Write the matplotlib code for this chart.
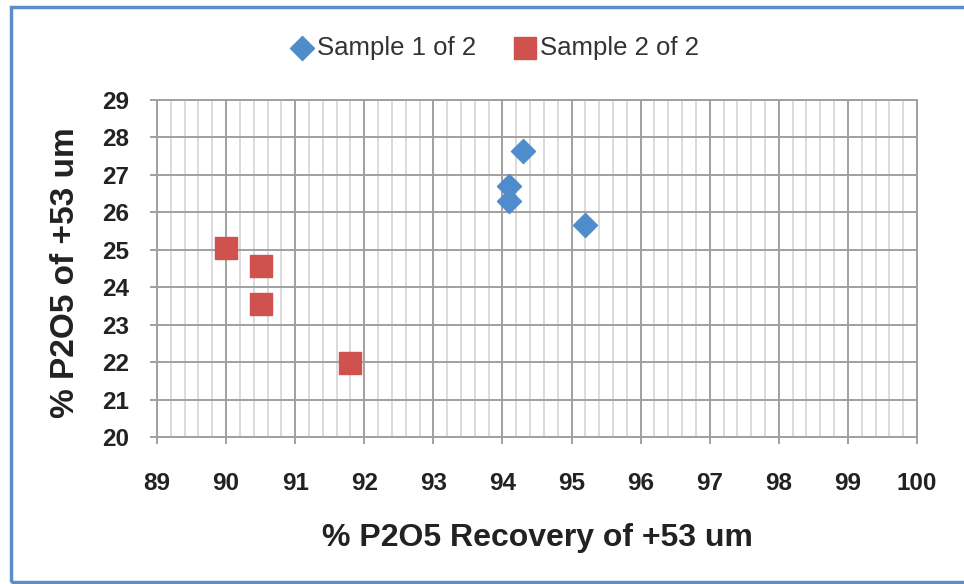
import matplotlib
matplotlib.use("Agg")
import matplotlib.pyplot as plt
from matplotlib.patches import Rectangle
from matplotlib.ticker import MultipleLocator

plt.rcParams['font.family'] = ['Liberation Sans', 'DejaVu Sans']

s1_x = [94.3, 94.1, 94.1, 95.2]
s1_y = [27.65, 26.7, 26.3, 25.65]
s2_x = [90.0, 90.5, 90.5, 91.8]
s2_y = [25.05, 24.57, 23.55, 21.97]
series_names = ["Sample 1 of 2", "Sample 2 of 2"]
x_label = "% P2O5 Recovery of +53 um"
y_label = "% P2O5 of +53 um"

fig = plt.figure(figsize=(9.64, 5.84), dpi=100)
fig.patches.append(Rectangle((11/964, 2/584), 1.0, 575/584, transform=fig.transFigure,
                             fill=False, edgecolor='#5b8ec9', linewidth=2.5, zorder=0))

ax = fig.add_axes([157/964, (584-437)/584, 760/964, 337/584])
ax.set_xlim(89, 100)
ax.set_ylim(20, 29)
ax.xaxis.set_major_locator(MultipleLocator(1))
ax.xaxis.set_minor_locator(MultipleLocator(0.2))
ax.yaxis.set_major_locator(MultipleLocator(1))
ax.grid(which='major', color='#a0a0a0', linewidth=1.4)
ax.grid(which='minor', axis='x', color='#d8d8d8', linewidth=1.3)
ax.set_axisbelow(True)
for sp in ax.spines.values():
    sp.set_color('#a0a0a0')
    sp.set_linewidth(1.4)
ax.tick_params(which='major', length=5, width=1.4, color='#a0a0a0', labelsize=17.5)
ax.tick_params(axis='x', which='major', pad=20)
ax.tick_params(axis='y', which='major', pad=15)
ax.tick_params(which='minor', length=0)
for lab in ax.get_xticklabels() + ax.get_yticklabels():
    lab.set_fontweight('bold')
    lab.set_color('#222222')

ax.scatter(s1_x, s1_y, marker='D', s=150, color='#4f8ccc', label=series_names[0], zorder=3)
ax.scatter(s2_x, s2_y, marker='s', s=235, color='#d0524f', label=series_names[1], zorder=3)

ax.set_xlabel(x_label, fontsize=23, fontweight='bold', color='#222222')
ax.xaxis.set_label_coords(0.5, -(538 - 437) / 337, transform=ax.transAxes)
ax.xaxis.label.set_va('center')
ax.set_ylabel(y_label, fontsize=24, fontweight='bold', color='#222222')
ax.yaxis.set_label_coords(-(157 - 66) / 760, (437 - 273) / 337, transform=ax.transAxes)
ax.yaxis.label.set_va('center')

leg = fig.legend(loc='center', bbox_to_anchor=(0.5 + 12/964, 1 - 48/584), ncol=2, frameon=False,
                 fontsize=18.5, handletextpad=0.1, columnspacing=1.4, handlelength=1.0,
                 labelcolor='#333333')

fig.savefig('out.png', dpi=100)
